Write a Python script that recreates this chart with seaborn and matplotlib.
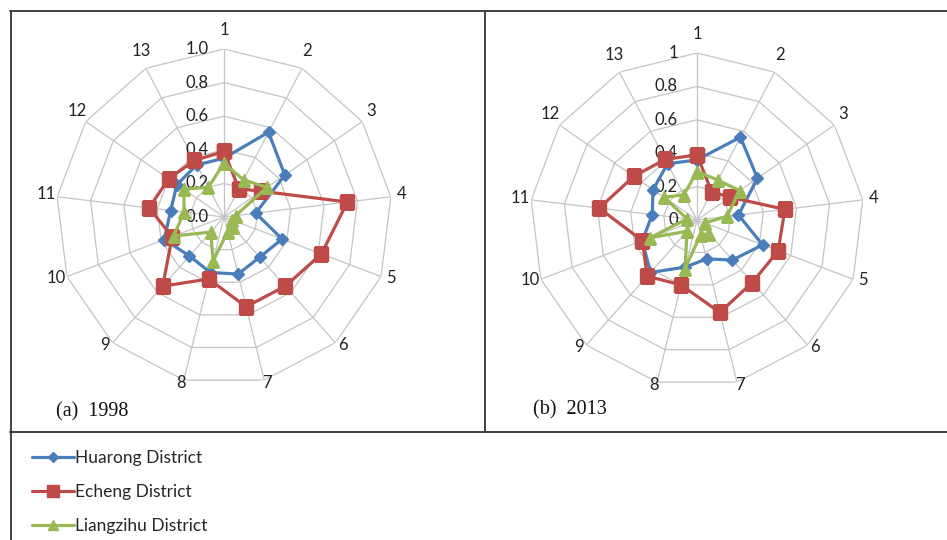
import matplotlib
matplotlib.use("Agg")
import matplotlib.pyplot as plt
import numpy as np
import seaborn as sns
from matplotlib.lines import Line2D

sns.set_theme(style="white")
plt.rcParams['font.family'] = ['Lato', 'DejaVu Sans']

# indicator axes 1..13
categories = [str(i) for i in range(1, 14)]

# 1998 values
huarong_1998 = [0.35, 0.57, 0.44, 0.19, 0.37, 0.32, 0.35, 0.34, 0.31, 0.38, 0.32, 0.34, 0.35]
echeng_1998 = [0.39, 0.19, 0.27, 0.74, 0.62, 0.55, 0.55, 0.38, 0.55, 0.33, 0.45, 0.40, 0.38]
liangzihu_1998 = [0.32, 0.25, 0.31, 0.07, 0.05, 0.08, 0.09, 0.27, 0.12, 0.32, 0.24, 0.29, 0.20]

# 2013 values
huarong_2013 = [0.36, 0.56, 0.44, 0.25, 0.42, 0.32, 0.24, 0.29, 0.42, 0.35, 0.27, 0.32, 0.38]
echeng_2013 = [0.39, 0.19, 0.24, 0.53, 0.52, 0.50, 0.57, 0.40, 0.45, 0.35, 0.59, 0.46, 0.41]
liangzihu_2013 = [0.29, 0.27, 0.31, 0.18, 0.05, 0.11, 0.09, 0.30, 0.09, 0.30, 0.06, 0.24, 0.17]

ring_values = [0.2, 0.4, 0.6, 0.8, 1.0]
ticks_1998 = ["0.0", "0.2", "0.4", "0.6", "0.8", "1.0"]
ticks_2013 = ["0", "0.2", "0.4", "0.6", "0.8", "1"]

series_names = ["Huarong District", "Echeng District", "Liangzihu District"]
colors = ["#4a7ebb", "#be4b48", "#98b954"]
markers = ["D", "s", "^"]
msizes = [6.5, 10, 8.5]

angles = np.linspace(0, 2 * np.pi, len(categories), endpoint=False)


def radar(ax, data, tick_labels, label_offset):
    ax.set_theta_zero_location("N")
    ax.set_theta_direction(-1)
    ax.set_ylim(0, 1.0)
    ax.grid(False)
    ax.spines["polar"].set_visible(False)
    ax.set_xticks([])
    ax.set_yticks([])
    ax.set_facecolor("none")

    closed = np.append(angles, angles[0])
    # polygon rings
    for rv in ring_values:
        ax.plot(closed, [rv] * len(closed), color="#c4c4c4", lw=0.9, zorder=1)
    # spokes
    for a in angles:
        ax.plot([a, a], [0, 1.0], color="#c4c4c4", lw=0.9, zorder=1)

    for vals, c, m, ms in zip(data, colors, markers, msizes):
        v = np.append(vals, vals[0])
        ax.plot(closed, v, color=c, lw=2.3, marker=m, markersize=ms,
                markeredgecolor=c, zorder=3)

    # category labels, Excel style just outside the vertices
    for a, lab in zip(angles, categories):
        ax.annotate(lab, xy=(a, 1.065), xytext=(0, 8 * abs(np.cos(a))),
                    textcoords="offset pixels", ha="center", va="center",
                    fontsize=12, color="#222222", annotation_clip=False)

    # radial tick labels along axis 1
    for rv, t in zip([0.0] + ring_values, tick_labels):
        ax.annotate(t, xy=(0, rv), xytext=(-label_offset, 0),
                    textcoords="offset pixels", ha="right", va="center",
                    fontsize=12, color="#222222", annotation_clip=False,
                    zorder=2)


fig = plt.figure(figsize=(9.47, 5.40), dpi=100)
W, H = 947, 540


def polar_axes(cx, cy, r):
    return fig.add_axes([(cx - r) / W, 1 - (cy + r) / H, 2 * r / W, 2 * r / H],
                        projection="polar")


ax1 = polar_axes(224, 217, 168)
radar(ax1, [huarong_1998, echeng_1998, liangzihu_1998], ticks_1998, 15)
ax2 = polar_axes(697, 220, 167)
radar(ax2, [huarong_2013, echeng_2013, liangzihu_2013], ticks_2013, 19)

# panel captions
fig.text(56 / W, 1 - 412 / H, "(a)  1998", family="Liberation Serif",
         fontsize=14.5, color="#111111", va="center")
fig.text(533 / W, 1 - 410 / H, "(b)  2013", family="Liberation Serif",
         fontsize=14.5, color="#111111", va="center")

# table frame
frame = dict(color="#333333", lw=1.3)
fig.add_artist(Line2D([10 / W, 1], [1 - 11 / H] * 2, **frame))
fig.add_artist(Line2D([10 / W, 1], [1 - 431.5 / H] * 2, **frame))
fig.add_artist(Line2D([10.5 / W] * 2, [0, 1 - 11 / H], **frame))
fig.add_artist(Line2D([485 / W] * 2, [1 - 431.5 / H, 1 - 11 / H], **frame))

# legend
handles = [Line2D([], [], color=c, lw=2.3, marker=m, markersize=ms * 0.8,
                  markeredgecolor=c) for c, m, ms in zip(colors, markers, msizes)]
fig.legend(handles, series_names, loc="upper left",
           bbox_to_anchor=(25 / W, 1 - 443 / H), frameon=False,
           fontsize=12.5, handlelength=2.4, handletextpad=0.1,
           labelspacing=1.05, borderaxespad=0)

fig.savefig("out.png", dpi=100)
